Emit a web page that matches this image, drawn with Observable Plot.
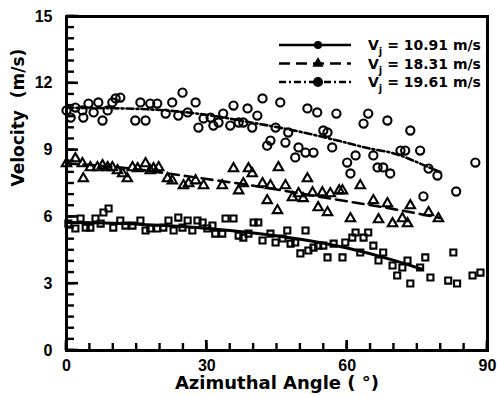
<!DOCTYPE html>
<html>
<head>
<meta charset="utf-8">
<script src="https://cdn.jsdelivr.net/npm/d3@7"></script>
<script src="https://cdn.jsdelivr.net/npm/@observablehq/plot@0.6"></script>
<style>
  html, body { margin: 0; padding: 0; background: #fff; }
  #chart svg { display: block; }
</style>
</head>
<body>
<div id="chart"></div>
<script>
// Jet velocities of the three runs (m/s)
const jetVelocities = ["10.91", "18.31", "19.61"];

// Measured points, V_j = 10.91 m/s (squares)
const angle1091 = [0.4,1.9,3.0,4.1,5.1,6.2,7.3,7.9,9.0,10.0,11.5,12.6,14.1,15.8,16.9,17.9,19.4,20.7,21.8,22.9,23.9,24.8,25.9,26.9,28.0,29.1,30.1,31.2,31.8,33.3,34.0,35.7,36.8,37.8,38.9,40.0,41.0,41.9,43.6,44.7,46.2,47.2,47.9,48.9,50.0,51.1,51.7,52.8,53.8,54.9,55.8,57.1,59.0,59.6,61.1,61.8,63.5,64.5,62.8,65.6,66.7,67.7,69.7,70.7,71.8,72.9,73.5,75.6,76.7,77.8,81.6,82.7,83.5,86.8,88.5];
const vel1091 = [5.70,5.48,5.93,5.52,5.52,5.93,5.70,6.20,6.38,5.52,5.84,5.61,5.61,5.84,5.39,5.48,5.48,5.52,5.84,5.39,5.97,5.52,5.84,5.39,5.84,5.75,5.48,5.61,5.25,5.25,5.93,5.93,5.16,5.07,5.25,5.75,5.75,4.94,5.25,4.85,5.03,5.39,4.80,4.85,4.36,5.39,4.49,4.62,4.71,4.71,4.18,4.80,4.18,4.85,5.07,5.30,5.07,5.30,4.40,4.71,4.04,4.40,3.82,3.37,3.73,4.04,3.01,3.73,4.18,3.28,3.14,4.40,3.01,3.37,3.50];

// Measured points, V_j = 18.31 m/s (triangles)
const angle1831 = [0,1.9,3.6,3.4,5.1,6.6,7.7,8.8,9.8,10.9,12.0,13.0,14.1,15.2,16.9,17.9,18.6,19.7,21.6,22.6,25.0,26.1,27.6,29.3,33.3,35.7,36.8,37.8,38.9,39.7,41.9,43.6,45.3,42.9,45.1,46.8,48.3,49.6,50.6,51.5,52.6,54.7,56.4,53.8,55.8,58.3,59.0,62.8,65.6,68.6,60.7,66.7,69.7,71.8,72.9,73.5,77.4,79.5];
const vel1831 = [8.40,8.62,7.72,8.40,8.22,8.22,8.31,8.22,8.22,8.08,7.95,7.72,8.22,8.17,8.40,8.08,8.17,8.22,7.72,7.63,7.41,7.50,7.63,7.41,7.41,8.17,7.18,7.50,8.17,7.95,7.50,7.41,8.22,6.74,6.29,7.41,6.87,7.05,6.83,7.72,7.09,7.09,7.05,6.42,6.20,7.18,7.18,7.41,6.74,6.60,5.93,5.88,5.70,5.93,5.70,6.51,6.20,5.93];

// Measured points, V_j = 19.61 m/s (circles)
const angle1961 = [0,0.9,1.9,3.4,3.6,4.7,5.8,6.8,7.7,8.8,9.8,10.5,11.5,14.7,15.8,16.9,17.9,19.4,21.2,22.6,23.9,24.8,25.9,27.6,28.2,29.3,30.8,31.4,32.5,33.5,35.0,35.7,36.8,37.8,38.7,39.7,40.8,41.9,42.9,43.6,44.7,45.7,46.8,47.4,48.9,49.6,51.1,51.5,52.8,53.6,54.9,55.8,56.8,57.7,60.0,60.7,61.8,63.5,64.5,65.6,66.5,67.7,68.6,69.2,71.4,72.4,73.5,75.6,76.3,77.4,79.3,83.3,87.4];
const vel1961 = [10.78,10.46,10.91,10.78,10.46,11.09,10.69,11.14,10.33,10.78,11.14,11.32,11.36,10.33,11.14,10.33,11.09,11.09,10.64,11.14,10.55,11.58,10.69,11.14,10.01,10.42,10.46,10.10,10.24,10.64,10.10,11.00,10.24,10.24,10.87,10.01,10.55,11.32,9.20,9.43,10.01,11.14,9.34,9.79,8.67,9.12,8.89,10.87,8.89,10.69,9.88,9.79,9.12,10.64,8.44,7.95,8.76,10.19,10.64,8.76,8.22,8.22,10.33,7.95,8.98,8.98,9.88,8.98,6.92,8.17,7.86,7.14,8.44];

// Fitted trend curves
const fitAngle1091 = [0,10,20,30,40,50,60,70,76];
const fitVel1091 = [5.75,5.72,5.62,5.48,5.28,5.00,4.60,4.05,3.65];
const fitAngle1831 = [0,10,20,30,40,50,60,70,80];
const fitVel1831 = [8.40,8.25,8.00,7.70,7.40,7.05,6.70,6.35,5.95];
const fitAngle1961 = [0,10,20,30,40,50,60,65,70,75,80];
const fitVel1961 = [10.90,10.88,10.80,10.58,10.22,9.82,9.32,9.06,8.85,8.45,8.00];

// Axis ticks
const xTicks = [0, 30, 60, 90];
const yTicks = [0, 3, 6, 9, 12, 15];
const xMinor = d3.range(0, 91, 5);
const yMinor = d3.range(0, 15.01, 0.5);

const FONT = "'Liberation Sans', Arial, Helvetica, sans-serif";
const TITLE_FONT = "'DejaVu Sans', 'Liberation Sans', Arial, sans-serif";
const pts = (a, v) => a.map((d, i) => ({angle: d, v: v[i]}));

const W = 497, H = 397;
const M = {left: 66, right: 10, top: 16, bottom: 47};
const xDomain = [0, 90], yDomain = [0, 15];

const dashed = "11,6";
const dashDot = "7,3,2,3";

const plot = Plot.plot({
  width: W,
  height: H,
  marginLeft: M.left,
  marginRight: M.right,
  marginTop: M.top,
  marginBottom: M.bottom,
  style: {fontFamily: FONT, background: "#fff", color: "#000", overflow: "visible"},
  x: {domain: xDomain},
  y: {domain: yDomain},
  marks: [
    Plot.frame({stroke: "#000", fill: "none", strokeWidth: 3}),

    // tick labels
    Plot.axisX(xTicks, {tickSize: 0, tickPadding: 9, fontSize: 16, fontWeight: "bold", label: null}),
    Plot.axisY(yTicks, {tickSize: 0, tickPadding: 14, fontSize: 16, fontWeight: "bold", label: null}),

    // trend curves
    Plot.line(pts(fitAngle1091, fitVel1091), {x: "angle", y: "v", curve: "natural", strokeWidth: 3}),
    Plot.line(pts(fitAngle1831, fitVel1831), {x: "angle", y: "v", curve: "natural", strokeWidth: 2.6, strokeDasharray: dashed}),
    Plot.line(pts(fitAngle1961, fitVel1961), {x: "angle", y: "v", curve: "natural", strokeWidth: 2.6, strokeDasharray: dashDot}),

    // measurements
    Plot.dot(pts(angle1091, vel1091), {x: "angle", y: "v", symbol: "square", r: 3.4, stroke: "#000", strokeWidth: 2.1, fill: "none"}),
    Plot.dot(pts(angle1831, vel1831), {x: "angle", y: "v", symbol: "triangle", r: 3.5, stroke: "#000", strokeWidth: 2.1, fill: "none"}),
    Plot.dot(pts(angle1961, vel1961), {x: "angle", y: "v", symbol: "circle", r: 4.1, stroke: "#000", strokeWidth: 2.1, fill: "none"}),

    // axis titles
    Plot.text(["Velocity  (m/s)"], {frameAnchor: "left", rotate: -90, dx: -48, dy: 3, fontSize: 17, fontWeight: "bold", fontFamily: TITLE_FONT, lineAnchor: "middle"}),
    Plot.text(["Azimuthal Angle ( °)"], {frameAnchor: "bottom", dy: 33, fontSize: 18, fontWeight: "bold", fontFamily: TITLE_FONT, lineAnchor: "middle"})
  ]
});

const svg = d3.select(plot);
const xs = plot.scale("x"), ys = plot.scale("y");
const x0 = xs.apply(xDomain[0]), y0 = ys.apply(yDomain[0]);

// Short ticks pointing into the frame, on the bottom and left edges only
const ticks = svg.append("g");
[[xMinor, 7, 2.4], [xTicks, 10, 2.6]].forEach(([vals, len, sw]) => {
  vals.forEach((v) => {
    const px = xs.apply(v);
    ticks.append("line")
      .attr("x1", px).attr("x2", px).attr("y1", y0).attr("y2", y0 - len)
      .attr("stroke", "#000")
      .attr("stroke-width", sw);
  });
});
[[yMinor, 8, 2.4], [yTicks, 12, 2.6]].forEach(([vals, len, sw]) => {
  vals.forEach((v) => {
    const py = ys.apply(v);
    ticks.append("line")
      .attr("x1", x0).attr("x2", x0 + len).attr("y1", py).attr("y2", py)
      .attr("stroke", "#000")
      .attr("stroke-width", sw);
  });
});

// Legend in the upper right corner of the frame
const legend = svg.append("g")
  .attr("font-family", TITLE_FONT)
  .attr("font-weight", "bold")
  .attr("font-size", 14)
  .attr("text-anchor", "start");
const styles = [
  {dash: null, symbol: d3.symbolCircle, size: 50},
  {dash: dashed, symbol: d3.symbolTriangle, size: 55},
  {dash: dashDot, symbol: d3.symbolCircle, size: 80}
];
jetVelocities.forEach((vj, i) => {
  const y = 45 + i * 18.5;
  legend.append("line")
    .attr("x1", 279).attr("x2", 351).attr("y1", y).attr("y2", y)
    .attr("stroke", "#000").attr("stroke-width", 2.6)
    .attr("stroke-dasharray", styles[i].dash);
  legend.append("path")
    .attr("transform", `translate(318,${y})`)
    .attr("d", d3.symbol(styles[i].symbol, styles[i].size)())
    .attr("fill", "#000");
  const t = legend.append("text").attr("x", 368).attr("y", y).attr("dy", "0.36em");
  t.append("tspan").text("V");
  t.append("tspan").attr("dy", 5).attr("font-size", 10).text("j");
  t.append("tspan").attr("dy", -5).text(` = ${vj} m/s`);
});

document.getElementById("chart").append(plot);
</script>
</body>
</html>
